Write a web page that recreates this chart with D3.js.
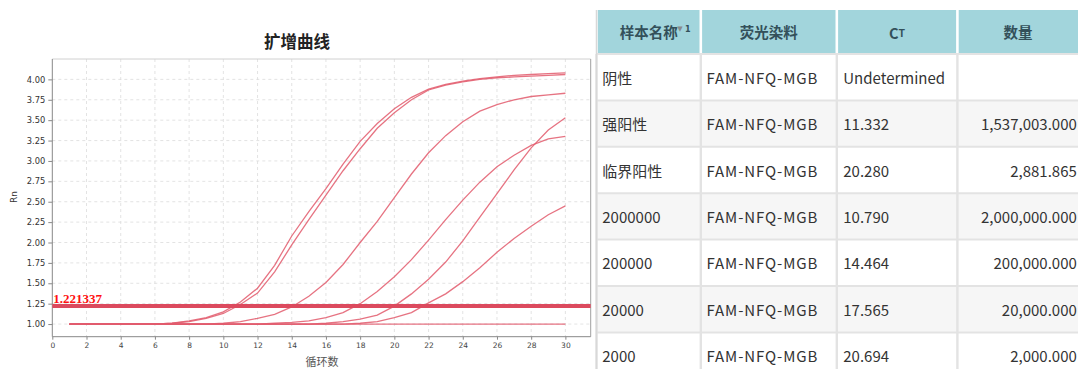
<!DOCTYPE html>
<html>
<head>
<meta charset="utf-8">
<script src="https://cdn.jsdelivr.net/npm/d3@7/dist/d3.min.js"></script>
<style>
  html, body { margin: 0; padding: 0; background: #fff; }
  svg { display: block; }
</style>
</head>
<body>
<svg id="chart" width="1078" height="369"></svg>
<script>
// ---- amplification data (Rn per cycle) ----
const cycles = d3.range(1, 31);
const rnNegative   = [1,1,1,1,1,1,1,1,1,1,1,1,1,1,1,1,1,1,1,1,1,1,1,1,1,1,1,1,1,1];
const rnStrong     = [1,1,1,1,1,1,1.01,1.03,1.07,1.13,1.24,1.38,1.64,1.97,2.28,2.58,2.88,3.15,3.40,3.59,3.75,3.87,3.93,3.97,4.00,4.02,4.03,4.04,4.05,4.06];
const rnBorderline = [1,1,1,1,1,1,1,1,1,1,1,1,1,1,1,1.01,1.03,1.06,1.11,1.22,1.37,1.55,1.76,2.02,2.31,2.60,2.89,3.16,3.38,3.53];
const rn2000000    = [1,1,1,1,1,1,1.01,1.04,1.08,1.15,1.27,1.44,1.72,2.08,2.38,2.66,2.96,3.24,3.46,3.64,3.78,3.88,3.94,3.98,4.01,4.03,4.05,4.06,4.07,4.08];
const rn200000     = [1,1,1,1,1,1,1,1,1,1.01,1.03,1.07,1.12,1.21,1.34,1.51,1.73,2.00,2.26,2.55,2.84,3.10,3.31,3.48,3.61,3.69,3.75,3.79,3.81,3.83];
const rn20000      = [1,1,1,1,1,1,1,1,1,1,1,1,1.01,1.02,1.04,1.08,1.14,1.25,1.40,1.58,1.79,2.03,2.28,2.52,2.74,2.93,3.07,3.19,3.27,3.30];
const rn2000       = [1,1,1,1,1,1,1,1,1,1,1,1,1,1,1,1,1,1.01,1.03,1.08,1.14,1.26,1.37,1.52,1.69,1.88,2.05,2.20,2.34,2.45];
const threshold = 1.221337;

const xTicks = d3.range(0, 31, 2);
const yTicks = d3.range(1, 4.01, 0.25);

// ---- result table data ----
const tableHeaders = ["样本名称", "荧光染料", "Cт", "数量"];
const sampleNames  = ["阴性", "强阳性", "临界阳性", "2000000", "200000", "20000", "2000"];
const dyes         = ["FAM-NFQ-MGB","FAM-NFQ-MGB","FAM-NFQ-MGB","FAM-NFQ-MGB","FAM-NFQ-MGB","FAM-NFQ-MGB","FAM-NFQ-MGB"];
const ctValues     = ["Undetermined", "11.332", "20.280", "10.790", "14.464", "17.565", "20.694"];
const quantities   = ["", "1,537,003.000", "2,881.865", "2,000,000.000", "200,000.000", "20,000.000", "2,000.000"];

const svg = d3.select("#chart");

// ================= amplification plot =================
const plot = { left: 52.3, right: 590.7, top: 59, bottom: 336.7 };
const x = d3.scaleLinear().domain([0, 31.48]).range([plot.left, plot.right]);
const y = d3.scaleLinear().domain([0.845, 4.25]).range([plot.bottom, plot.top]);

const g = svg.append("g");

// grid
g.append("g").selectAll("line").data(xTicks.filter(d => d > 0)).join("line")
  .attr("x1", d => x(d)).attr("x2", d => x(d))
  .attr("y1", plot.top).attr("y2", plot.bottom)
  .attr("stroke", "#dcdcdc").attr("stroke-width", 0.8).attr("stroke-dasharray", "3,3");
g.append("g").selectAll("line").data(yTicks).join("line")
  .attr("x1", plot.left).attr("x2", plot.right)
  .attr("y1", d => y(d)).attr("y2", d => y(d))
  .attr("stroke", "#dcdcdc").attr("stroke-width", 0.8).attr("stroke-dasharray", "3,3");

// frame
g.append("line").attr("x1", plot.left).attr("x2", plot.right).attr("y1", plot.top).attr("y2", plot.top)
  .attr("stroke", "#d0d0d0").attr("stroke-width", 1);
g.append("line").attr("x1", plot.right).attr("x2", plot.right).attr("y1", plot.top).attr("y2", plot.bottom)
  .attr("stroke", "#a0a0a0").attr("stroke-width", 1);

// axes
const yAxis = d3.axisLeft(y).tickValues(yTicks).tickFormat(d3.format(".2f")).tickSize(4).tickPadding(3);
const xAxis = d3.axisBottom(x).tickValues(xTicks).tickFormat(d3.format("d")).tickSize(3).tickPadding(3);

const ya = g.append("g").attr("transform", `translate(${plot.left},0)`).call(yAxis);
ya.select(".domain").attr("d", `M0,${plot.top}V${plot.bottom}`).attr("stroke", "#888");
ya.selectAll(".tick line").attr("stroke", "#888");
ya.selectAll(".tick text").attr("fill", "#333").style("font", "8.3px 'DejaVu Sans', sans-serif");

const xa = g.append("g").attr("transform", `translate(0,${plot.bottom})`).call(xAxis);
xa.select(".domain").attr("d", `M${plot.left},0H${plot.right}`).attr("stroke", "#888");
xa.selectAll(".tick line").attr("stroke", "#888");
xa.selectAll(".tick text").attr("fill", "#444").style("font", "7.5px 'DejaVu Sans', sans-serif");

// titles
svg.append("text").attr("x", 297).attr("y", 48).attr("text-anchor", "middle")
  .style("font", "600 16.5px 'Noto Sans CJK SC', sans-serif").attr("fill", "#222").text("扩增曲线");
svg.append("text").attr("transform", "translate(17,197) rotate(-90)").attr("text-anchor", "middle")
  .style("font", "9px 'DejaVu Sans', sans-serif").attr("fill", "#333").text("Rn");
svg.append("text").attr("x", 322).attr("y", 366).attr("text-anchor", "middle")
  .style("font", "11px 'Noto Sans CJK SC', sans-serif").attr("fill", "#555").text("循环数");

// amplification curves
const series = [rnNegative, rnStrong, rnBorderline, rn2000000, rn200000, rn20000, rn2000];
const line = d3.line().x((d, i) => x(cycles[i])).y(d => y(d));
g.append("g").selectAll("path").data(series).join("path")
  .attr("d", line)
  .attr("fill", "none")
  .attr("stroke", "#e25a6c")
  .attr("stroke-opacity", 0.85)
  .attr("stroke-width", 1.3);

// threshold
g.append("line")
  .attr("x1", plot.left).attr("x2", plot.right)
  .attr("y1", y(threshold)).attr("y2", y(threshold))
  .attr("stroke", "#dc4a5e").attr("stroke-width", 4);
g.append("text").attr("x", plot.left + 1).attr("y", y(threshold) - 3)
  .style("font", "bold 13px 'Liberation Serif', serif").attr("fill", "#ff1010")
  .text(d3.format(".6f")(threshold));

// ================= result table =================
const colEdges = [596.5, 700.8, 836.8, 957.4, 1080];
const headerTop = 10, headerBottom = 53.5;
const rowTop = 54, rowH = 46.4;
const t = svg.append("g");

// body rows
const rows = sampleNames.map((s, i) => [s, dyes[i], ctValues[i], quantities[i]]);
t.selectAll("rect.row").data(rows).join("rect").attr("class", "row")
  .attr("x", colEdges[0]).attr("width", colEdges[4] - colEdges[0])
  .attr("y", (d, i) => rowTop + i * rowH).attr("height", rowH)
  .attr("fill", (d, i) => i % 2 ? "#f6f6f6" : "#ffffff");

// header cells
t.selectAll("rect.head").data(tableHeaders).join("rect").attr("class", "head")
  .attr("x", (d, i) => colEdges[i] + 1.3).attr("width", (d, i) => colEdges[i + 1] - colEdges[i] - 2.6)
  .attr("y", headerTop).attr("height", headerBottom - headerTop)
  .attr("fill", "#a2d5dc");

// grid lines of body
t.selectAll("line.h").data(d3.range(rows.length + 1)).join("line").attr("class", "h")
  .attr("x1", colEdges[0]).attr("x2", colEdges[4])
  .attr("y1", i => rowTop + i * rowH).attr("y2", i => rowTop + i * rowH)
  .attr("stroke", "#e3e3e3").attr("stroke-width", 2);
t.selectAll("line.v").data(colEdges.slice(0, 4)).join("line").attr("class", "v")
  .attr("x1", d => d).attr("x2", d => d)
  .attr("y1", rowTop).attr("y2", 369)
  .attr("stroke", "#e3e3e3").attr("stroke-width", 2.4);
t.append("line").attr("x1", colEdges[0]).attr("x2", colEdges[0]).attr("y1", headerTop).attr("y2", 369)
  .attr("stroke", "#d8d8d8").attr("stroke-width", 1.5);

// header text
const headY = (headerTop + headerBottom) / 2;
tableHeaders.forEach((h, i) => {
  const cx = (colEdges[i] + Math.min(colEdges[i + 1], 1078)) / 2;
  const tx = t.append("text").attr("x", i === 3 ? 1018 : cx).attr("y", headY)
    .attr("text-anchor", "middle").attr("dominant-baseline", "central")
    .style("font", "bold 14.5px 'Noto Sans CJK SC', sans-serif").attr("fill", "#33505a");
  if (h === "Cт") {
    tx.append("tspan").text("C");
    tx.append("tspan").style("font-size", "10.5px").text("T");
  } else {
    tx.text(h);
  }
});
// sort marker on the first column
t.append("text").attr("x", 680).attr("y", 31).attr("text-anchor", "middle")
  .style("font", "7px 'DejaVu Sans', sans-serif").attr("fill", "#8a8a8a").text("▼");
t.append("text").attr("x", 685).attr("y", 32)
  .style("font", "bold 8px 'DejaVu Sans', sans-serif").attr("fill", "#33505a").text("1");

// body text
const cellFont = "15px 'Noto Sans CJK SC', sans-serif";
rows.forEach((r, i) => {
  const cy = rowTop + i * rowH + rowH / 2;
  const textXs = [602.3, 706.5, 843.3, 1076.8];
  r.forEach((v, j) => {
    t.append("text").attr("x", textXs[j]).attr("y", cy)
      .attr("text-anchor", j === 3 ? "end" : "start").attr("dominant-baseline", "central")
      .style("font", cellFont).style("letter-spacing", j === 1 ? "0.9px" : "0px")
      .attr("fill", "#333")
      .text(v);
  });
});
</script>
</body>
</html>
